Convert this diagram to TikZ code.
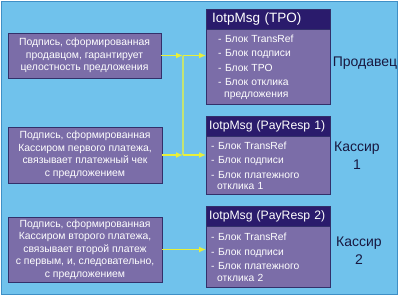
\documentclass[tikz,border=0pt]{standalone}
\usepackage{fontspec}
\setmainfont{Liberation Sans}
\usetikzlibrary{arrows.meta}

\definecolor{skyback}{HTML}{70C2EC}
\definecolor{frameblue}{HTML}{3F8FC6}
\definecolor{boxlilac}{HTML}{7B6DA8}
\definecolor{boxedge}{HTML}{33306A}
\definecolor{headnavy}{HTML}{2A1B6C}
\definecolor{arrowyellow}{HTML}{E8F03A}
\definecolor{linkgreen}{HTML}{C4E474}
\definecolor{rolenavy}{HTML}{181840}

\tikzset{
  signbox/.style={draw=boxedge,fill=boxlilac,text=white,align=center,inner sep=0pt,
    font=\fontsize{10.4}{12.5}\selectfont},
  msghead/.style={draw=boxedge,fill=headnavy,text=white,anchor=north west,
    minimum height=20pt,inner xsep=3pt,inner ysep=0pt,text width=118pt,align=left,
    font=\fontsize{12.2}{14}\selectfont},
  msgbody/.style={draw=boxedge,fill=boxlilac,text=white,anchor=north,align=left,
    font=\fontsize{10.3}{11.5}\selectfont},
  role/.style={text=rolenavy,align=center,font=\fontsize{14}{18}\selectfont},
  sigarrow/.style={arrowyellow,line width=1.5pt,-{Latex[length=7pt,width=6pt]}}
}

\begin{document}
\begin{tikzpicture}[x=1pt,y=-1pt]
    \useasboundingbox (0,0) rectangle (400,297);
    % --- background panel
    \fill[white] (0,0) rectangle (400,297);
    \fill[skyback] (1,1) rectangle (398,295);
    \draw[frameblue,line width=0.8pt] (1.5,1.5) rectangle (397.5,294.5);
    % --- signatures, left column
    \node[signbox,minimum width=153pt,minimum height=45pt] (sig1) at (84.5,55.5)
      {Подпись, сформированная\\продавцом, гарантирует\\целостность предложения};
    \node[signbox,minimum width=154pt,minimum height=56pt] (sig2) at (85,155)
      {Подпись, сформированная\\Кассиром первого платежа,\\связывает платежный чек\\с предложением};
    \node[signbox,minimum width=154pt,minimum height=65pt] (sig3) at (85,249.5)
      {Подпись, сформированная\\Кассиром второго платежа,\\связывает второй платеж\\с первым, и, следовательно,\\с предложением};
    % --- messages, right column
    \node[msghead,font=\fontsize{13.5}{15}\selectfont,inner xsep=6pt,text width=112pt]
      (tpoh) at (206,9) {IotpMsg (TPO)};
    \node[msgbody,minimum width=124pt,minimum height=75pt,inner xsep=12pt,text width=100pt]
      (tpob) at (tpoh.south)
      {- Блок TransRef\\[3pt]- Блок подписи\\[3pt]- Блок TPO\\[3pt]- Блок отклика\\\hspace*{6pt}предложения};
    \node[msghead] (pay1h) at (206,116) {IotpMsg (PayResp 1)};
    \node[msgbody,minimum width=124pt,minimum height=58pt,inner xsep=5pt,text width=114pt]
      (pay1b) at (pay1h.south)
      {- Блок TransRef\\[3pt]- Блок подписи\\[3pt]- Блок платежного\\\hspace*{6pt}отклика 1};
    \node[msghead] (pay2h) at (206,206) {IotpMsg (PayResp 2)};
    \node[msgbody,minimum width=124pt,minimum height=61pt,inner xsep=5pt,text width=114pt]
      (pay2b) at (pay2h.south)
      {- Блок TransRef\\[3pt]- Блок подписи\\[3pt]- Блок платежного\\\hspace*{6pt}отклика 2};
    % --- roles
    \node[role] (seller) at (365,63) {Продавец};
    \node[role] (cash1) at (357,156) {Кассир\\1};
    \node[role] (cash2) at (359,251) {Кассир\\2};
    % --- connectors
    \coordinate (j1) at (183,55.5);
    \coordinate (j2) at (183,155);
    \draw[linkgreen,line width=1.5pt] (j1) -- (j2);
    \draw[sigarrow] (sig1.east) -- (j1);
    \draw[sigarrow] (j1) -- (j1 -| tpob.west);
    \draw[sigarrow] (sig2.east) -- (j2);
    \draw[sigarrow] (j2) -- (j2 -| pay1b.west);
    \draw[sigarrow] (sig3.east) -- (sig3.east -| pay2b.west);
\end{tikzpicture}
\end{document}
